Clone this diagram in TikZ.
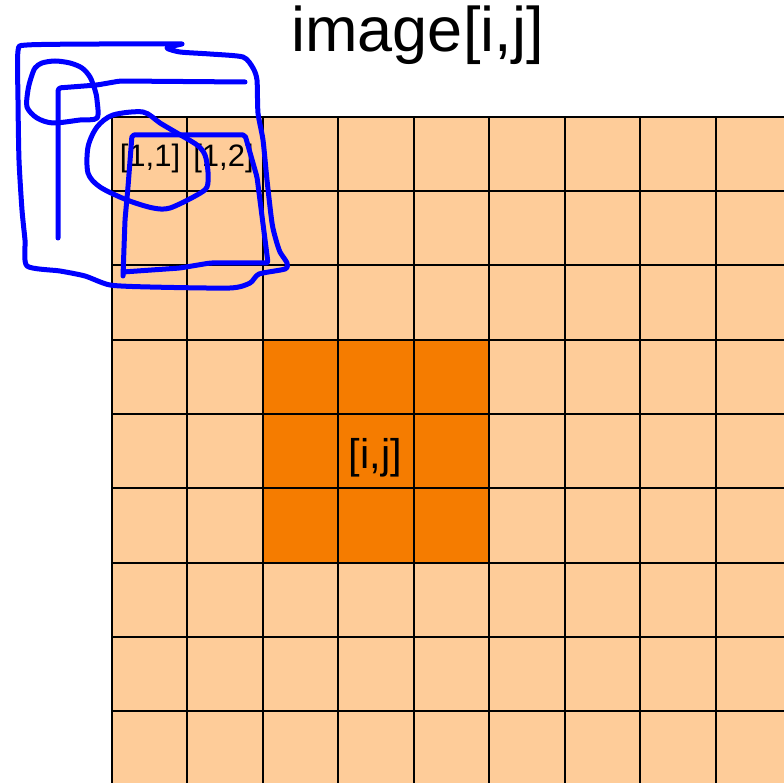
\documentclass[tikz,border=0pt]{standalone}
\usepackage{fontspec}
\setmainfont{Liberation Sans}
\definecolor{lightor}{HTML}{FECC99}
\definecolor{darkor}{HTML}{F57C00}
\definecolor{pen}{HTML}{0000FF}
\tikzset{
  gridline/.style={black, line width=2pt},
  ink/.style={pen, line width=5pt, line cap=round, line join=round},
  lbl/.style={inner sep=0pt, text=black}
}
\begin{document}
\begin{tikzpicture}[x=1pt, y=-1pt]
\useasboundingbox (0,0) rectangle (784,783);
\fill[white] (0,0) rectangle (784,783);
% cells
\fill[lightor] (111.5,117) rectangle (784,783);
\fill[darkor] (262.5,340.5) rectangle (489,563);
% grid
\foreach \c in {0,...,8} {
  \draw[gridline] ({111.5+75.5*\c},117) -- ({111.5+75.5*\c},783);
}
\foreach \r in {0,...,8} {
  \draw[gridline] (111.5,{117+74.25*\r}) -- (784,{117+74.25*\r});
}
% labels
\node[lbl, anchor=base] (title) at (417.5,52) {\fontsize{63}{70}\selectfont image[i,j]};
\node[lbl] (ij) at (375.5,457.5) {\fontsize{41.5}{48}\selectfont [i,j]};
\node[lbl] (c11) at (150,158) {\fontsize{31}{36}\selectfont [1,1]};
\node[lbl] (c12) at (223.5,158) {\fontsize{31}{36}\selectfont [1,2]};
% hand-drawn strokes
\draw[ink] plot[smooth, tension=0.4] coordinates {(182,44) (100,44) (27,45) (18,51) (18,100) (19,160) (22,210) (25,240) (27,266) (60,271) (85,276) (110,285) (150,287) (230,288) (250,283) (259,274) (285,269) (287,263) (280,252) (276,240) (272,223) (267,180) (263,140) (258,113) (257,80) (253,68) (243,57) (210,54) (180,52) (167,48) (182,44)};
\draw[ink, rounded corners=3pt] (58,238) -- (58,88) -- (97,85) -- (120,81) -- (245,82);
\draw[ink] plot[smooth cycle, tension=0.5] coordinates {(42,63) (55,61) (70,63) (82,68) (90,77) (95,90) (97,100) (97,118) (80,120) (53,123) (37,118) (27,107) (28,90) (31,78) (35,68)};
\draw[ink] plot[smooth cycle, tension=0.5] coordinates {(143,112) (113,115) (97,127) (88,147) (88,173) (100,187) (127,200) (153,208) (170,208) (197,195) (207,187) (208,172) (205,155) (197,145) (177,133) (160,123)};
\draw[ink, rounded corners=2pt] (123,276) -- (125,220) -- (128,187) -- (132,135) -- (245,135) -- (257,177) -- (268,263) -- (210,263) -- (180,268) -- (123,272);
\end{tikzpicture}
\end{document}
